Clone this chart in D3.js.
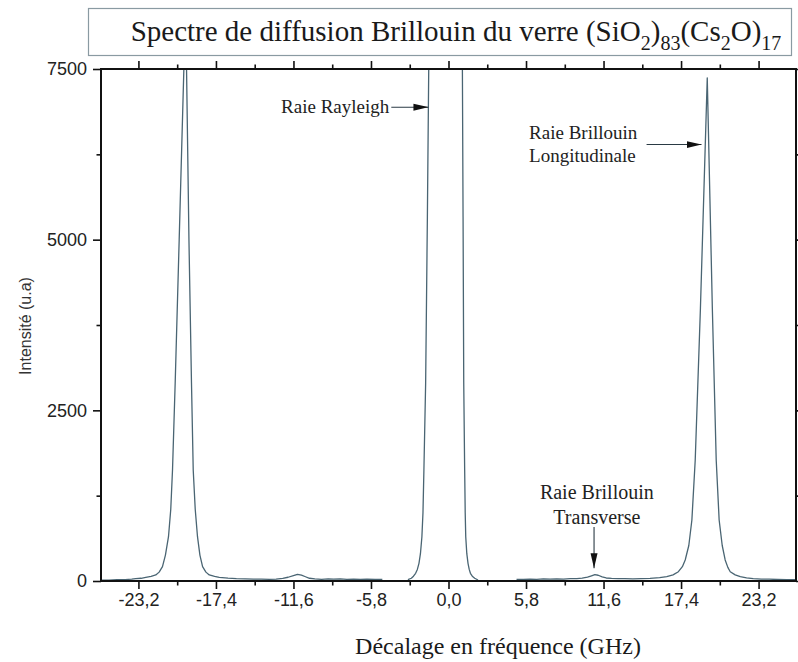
<!DOCTYPE html>
<html><head><meta charset="utf-8">
<script src="https://cdn.jsdelivr.net/npm/d3@7"></script>
<style>
html,body{margin:0;padding:0;background:#fff;}
svg{display:block;}
</style></head>
<body><div id="chart"></div>
<script>
// ---- Data ----
// Frequency shift (GHz); null intensity = gap in the recorded spectrum
const freqGHz = [
  -26.0,-25.4,-24.8,-24.2,-23.7,-23.4,-23.0,-22.65,-22.25,-21.9,-21.65,-21.4,-21.18,-20.95,-20.78,-20.65,-20.45,-20.15,-19.80,-19.68,-19.60,-19.42,-19.23,-19.10,-18.95,-18.78,-18.60,-18.40,-18.15,-17.90,-17.50,-17.15,-16.5,-15.87,-15.2,-14.6,-14.0,-13.4,-12.9,-12.4,-12.0,-11.6,-11.3,-11.0,-10.7,-10.4,-10.0,-9.5,-9.0,-8.6,-8.1,-7.6,-7.1,-6.6,-6.1,-5.5,-4.95,
  -4.0,
  -3.04,-2.78,-2.62,-2.46,-2.33,-2.21,-2.10,-1.99,-1.91,-1.84,-1.71,-1.58,-1.48,-1.46,1.03,1.04,1.09,1.14,1.21,1.25,1.29,1.37,1.46,1.55,1.64,1.78,1.96,2.21,
  3.5,
  5.09,5.6,6.1,6.6,7.1,7.6,8.1,8.6,9.1,9.6,10.0,10.4,10.7,10.95,11.2,11.5,11.8,12.2,12.7,13.2,13.8,14.4,15.08,15.8,16.33,16.8,17.20,17.50,17.71,17.98,18.21,18.46,18.85,19.36,19.74,20.03,20.25,20.48,20.70,20.90,21.08,21.45,21.83,22.3,22.80,23.4,24.0,24.6,25.3,26.0
];
const intensity = [
  14,12,18,20,26,34,40,54,68,88,130,210,380,649,1050,1626,2900,5000,7500,8300,7500,5000,2900,1626,1050,649,380,210,130,88,68,54,42,34,30,27,28,24,28,38,55,80,98,85,62,40,30,24,30,26,32,24,28,22,27,23,22,
  null,
  20,40,70,113,170,259,400,649,1000,1626,2900,5333,7486,7800,7800,7486,5333,2900,1626,1000,649,400,259,170,113,70,40,15,
  null,
  25,22,28,24,30,26,32,28,34,36,42,58,76,92,84,60,44,38,34,36,32,34,38,48,63,90,136,210,308,520,894,1772,4000,7370,4000,1772,894,520,308,200,136,90,63,45,34,28,26,22,20,18
];
const xMajorTicks = [-23.2,-17.4,-11.6,-5.8,0.0,5.8,11.6,17.4,23.2];
const xMinorTicks = [-20.3,-14.5,-8.7,-2.9,2.9,8.7,14.5,20.3];
const yMajorTicks = [0,2500,5000,7500];
const yMinorTicks = [1250,3750,6250];
const xDomain = [-26, 26];
const yDomain = [0, 7500];

const titleParts = [
  {t:"Spectre de diffusion Brillouin du verre (SiO", sub:false},
  {t:"2", sub:true},{t:")", sub:false},{t:"83", sub:true},
  {t:"(Cs", sub:false},{t:"2", sub:true},{t:"O)", sub:false},{t:"17", sub:true}
];
const xTitle = "Décalage en fréquence (GHz)";
const yTitle = "Intensité (u.a)";
// annotations: text anchored in data coordinates, arrow from/to in data coordinates
const annotations = [
  {lines:["Raie Rayleigh"], x:-4.43, y:6858, anchor:"end", size:19,
   arrow:{x1:-4.28,y1:6940,x2:-1.50,y2:6940}},
  {lines:["Raie Brillouin","Longitudinale"], x:6.03, y:6477, anchor:"start", size:19,
   arrow:{x1:14.82,y1:6393,x2:18.93,y2:6393}},
  {lines:["Raie Brillouin","Transverse"], x:11.1, y:1198, anchor:"middle", size:20,
   arrow:{x1:10.89,y1:792,x2:10.89,y2:186}}
];

// ---- Layout ----
const W = 798, H = 662;
const plot = {left:101, right:796, top:69, bottom:581};
const serif = "'Liberation Serif','Times New Roman',serif";
const sans = "'Liberation Sans',Arial,sans-serif";
const lineColor = "#4a6573";

const svg = d3.select("#chart").append("svg").attr("width",W).attr("height",H);
const defs = svg.append("defs");

const x = d3.scaleLinear().domain(xDomain).range([plot.left, plot.right]);
const y = d3.scaleLinear().domain(yDomain).range([plot.bottom, plot.top]);

defs.append("clipPath").attr("id","clip")
  .append("rect").attr("x",plot.left).attr("y",plot.top)
  .attr("width",plot.right-plot.left).attr("height",plot.bottom-plot.top);

// Title box
svg.append("rect").attr("x",88.5).attr("y",8.5).attr("width",703).attr("height",47)
  .attr("fill","#fff").attr("stroke","#8a9aa2").attr("stroke-width",1.2);
const tt = svg.append("text").attr("x",456).attr("y",41).attr("text-anchor","middle")
  .attr("font-family",serif).attr("font-size",29).attr("fill","#1a1a1a");
let prevSub = false;
titleParts.forEach(p=>{
  const ts = tt.append("tspan").text(p.t);
  if (p.sub && !prevSub) ts.attr("dy",9).attr("font-size",20);
  else if (!p.sub && prevSub) ts.attr("dy",-9);
  else if (p.sub) ts.attr("font-size",20);
  prevSub = p.sub;
});

// Data line
const pts = freqGHz.map((f,i)=>({f, v:intensity[i]}));
const line = d3.line().defined(d=>d.v!==null).x(d=>x(d.f)).y(d=>y(d.v));
svg.append("path").datum(pts).attr("clip-path","url(#clip)")
  .attr("fill","none").attr("stroke",lineColor).attr("stroke-width",1.3)
  .attr("stroke-linejoin","round").attr("d",line);

// Axes (ticks); the frame is drawn separately
const fmtX = v => d3.format(".1f")(v).replace(".", ",").replace("−","-");
function styleAxis(g){
  g.select(".domain").remove();
  g.selectAll(".tick line").attr("stroke","#111").attr("stroke-width",1.6);
  g.selectAll("text").attr("font-family",sans).attr("font-size",18).attr("fill","#222");
}
function addAxis(axis, tx, ty){
  const g = svg.append("g").attr("transform",`translate(${tx},${ty})`).call(axis);
  styleAxis(g);
  return g;
}
addAxis(d3.axisBottom(x).tickValues(xMajorTicks).tickSize(8).tickPadding(4).tickFormat(fmtX), 0, plot.bottom);
addAxis(d3.axisBottom(x).tickValues(xMinorTicks).tickSize(4.5).tickFormat(""), 0, plot.bottom);
addAxis(d3.axisTop(x).tickValues(xMajorTicks).tickSize(8).tickFormat(""), 0, plot.top);
addAxis(d3.axisTop(x).tickValues(xMinorTicks).tickSize(4.5).tickFormat(""), 0, plot.top);
addAxis(d3.axisLeft(y).tickValues(yMajorTicks).tickSize(8).tickPadding(6).tickFormat(d3.format("d")), plot.left, 0);
addAxis(d3.axisLeft(y).tickValues(yMinorTicks).tickSize(4.5).tickFormat(""), plot.left, 0);
addAxis(d3.axisRight(y).tickValues(yMajorTicks.concat(yMinorTicks)).tickSize(6).tickFormat(""), plot.right, 0);

// Frame as four explicit lines
const frame = svg.append("g").attr("stroke","#111").attr("stroke-width",2).attr("stroke-linecap","square");
[[plot.left,plot.top,plot.right,plot.top],
 [plot.left,plot.bottom,plot.right,plot.bottom],
 [plot.left,plot.top,plot.left,plot.bottom],
 [plot.right,plot.top,plot.right,plot.bottom]].forEach(s=>{
  frame.append("line").attr("x1",s[0]).attr("y1",s[1]).attr("x2",s[2]).attr("y2",s[3]);
});

// Axis titles
svg.append("text").attr("x",498).attr("y",654).attr("text-anchor","middle")
  .attr("font-family",serif).attr("font-size",24).attr("fill","#1a1a1a").text(xTitle);
svg.append("text").attr("transform",`translate(31,326) rotate(-90)`).attr("text-anchor","middle")
  .attr("font-family",sans).attr("font-size",16).attr("fill","#333").text(yTitle);

// Annotations
defs.append("marker").attr("id","ah").attr("viewBox","0 0 15 8").attr("refX",15).attr("refY",4)
  .attr("markerWidth",15).attr("markerHeight",8).attr("markerUnits","userSpaceOnUse").attr("orient","auto")
  .append("path").attr("d","M0,0.5 L15,4 L0,7.5 Z").attr("fill","#111");
annotations.forEach(a=>{
  const t = svg.append("text").attr("text-anchor",a.anchor).attr("font-family",serif)
    .attr("font-size",a.size).attr("fill","#222");
  a.lines.forEach((l,i)=>{
    t.append("tspan").attr("x",x(a.x)).attr("y",y(a.y)+i*(a.size*1.23)).text(l);
  });
  svg.append("line").attr("x1",x(a.arrow.x1)).attr("y1",y(a.arrow.y1))
    .attr("x2",x(a.arrow.x2)).attr("y2",y(a.arrow.y2))
    .attr("stroke","#2a3a44").attr("stroke-width",1.1).attr("marker-end","url(#ah)");
});
</script>
</body></html>
